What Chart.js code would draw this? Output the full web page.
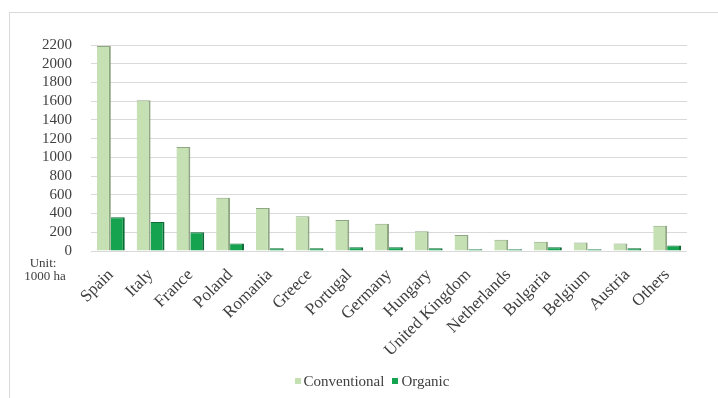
<!DOCTYPE html>
<html>
<head>
<meta charset="utf-8">
<script src="https://cdn.jsdelivr.net/npm/chart.js@4.4.1/dist/chart.umd.min.js"></script>
<style>
    html, body { margin: 0; padding: 0; background: #fff; }
    #frame {
        position: absolute;
        left: 9px; top: 12px;
        width: 709px; height: 386px;
        border-left: 1px solid #d9d9d9;
        border-top: 1px solid #d9d9d9;
        box-sizing: border-box;
    }
    #chart { display: block; }
    #legend {
        position: absolute;
        left: 0; top: 359px;
        width: 724px;
        text-align: center;
        font: 15px "Liberation Serif", serif;
        color: #404040;
        line-height: 18px;
    }
    #legend span.item { margin: 0 4px; white-space: nowrap; }
    #legend i {
        display: inline-block;
        width: 6px; height: 6px;
        margin-right: 3px;
        vertical-align: 2px;
    }
</style>
</head>
<body>
<div id="frame"><canvas id="chart" width="708" height="385"></canvas><div id="legend"></div></div>
<script>
// dữ liệu (1000 ha)
const countries = ['Spain', 'Italy', 'France', 'Poland', 'Romania', 'Greece', 'Portugal', 'Germany',
    'Hungary', 'United Kingdom', 'Netherlands', 'Bulgaria', 'Belgium', 'Austria', 'Others'];
const conventional = [2190, 1610, 1110, 570, 460, 370, 330, 290, 210, 170, 120, 100, 90, 80, 270];
const organic = [360, 310, 200, 80, 30, 30, 40, 40, 30, 20, 20, 40, 20, 30, 60];
const yTicks = [0, 200, 400, 600, 800, 1000, 1200, 1400, 1600, 1800, 2000, 2200];

const serif = 'Liberation Serif';
Chart.defaults.font.family = serif;
Chart.defaults.color = '#404040';

// chữ "Unit: 1000 ha" dưới trục y
const unitLabel = {
    id: 'unitLabel',
    afterDraw(chart) {
        const ctx = chart.ctx;
        ctx.save();
        ctx.fillStyle = '#404040';
        ctx.font = '13px ' + serif;
        ctx.textAlign = 'center';
        ctx.textBaseline = 'middle';
        ctx.fillText('Unit:', 33, 251);
        ctx.fillText('1000 ha', 35, 264);
        ctx.restore();
    }
};

const ctx = document.getElementById('chart').getContext('2d');
const chart = new Chart(ctx, {
    type: 'bar',
    data: {
        labels: countries,
        datasets: [{
            label: 'Conventional',
            data: conventional,
            backgroundColor: '#c5e0b3',
            borderColor: '#8fa883',
            borderWidth: { top: 1, right: 2, left: 0, bottom: 0 },
            borderSkipped: false,
            barPercentage: 1,
            categoryPercentage: 0.7
        }, {
            label: 'Organic',
            data: organic,
            backgroundColor: '#16a34f',
            borderColor: '#0d6b35',
            borderWidth: { top: 1, right: 2, left: 0, bottom: 0 },
            borderSkipped: false,
            barPercentage: 1,
            categoryPercentage: 0.7
        }]
    },
    options: {
        responsive: false,
        animation: false,
        layout: { padding: { top: 32, right: 31, left: 0, bottom: 34 } },
        plugins: {
            legend: { display: false },
            tooltip: { enabled: false }
        },
        scales: {
            x: {
                afterFit(axis) { axis.height = 113; },
                grid: { display: false },
                border: { display: false },
                ticks: {
                    minRotation: 45,
                    maxRotation: 45,
                    autoSkip: false,
                    padding: 6,
                    color: '#404040',
                    font: { family: serif, size: 17 }
                }
            },
            y: {
                min: 0,
                max: 2200,
                afterBuildTicks(axis) {
                    axis.ticks = yTicks.map(v => ({ value: v }));
                },
                afterFit(axis) { axis.width = 81; },
                grid: { color: '#d9d9d9', drawTicks: false },
                border: { display: false },
                ticks: {
                    autoSkip: false,
                    padding: 19,
                    color: '#404040',
                    font: { family: serif, size: 15 },
                    callback: v => String(v)
                }
            }
        }
    },
    plugins: [unitLabel]
});

// chú thích dạng HTML (font serif)
const legendBox = document.getElementById('legend');
chart.data.datasets.forEach(ds => {
    const item = document.createElement('span');
    item.className = 'item';
    const sw = document.createElement('i');
    sw.style.background = ds.backgroundColor;
    item.appendChild(sw);
    item.appendChild(document.createTextNode(ds.label));
    legendBox.appendChild(item);
});
</script>
</body>
</html>
